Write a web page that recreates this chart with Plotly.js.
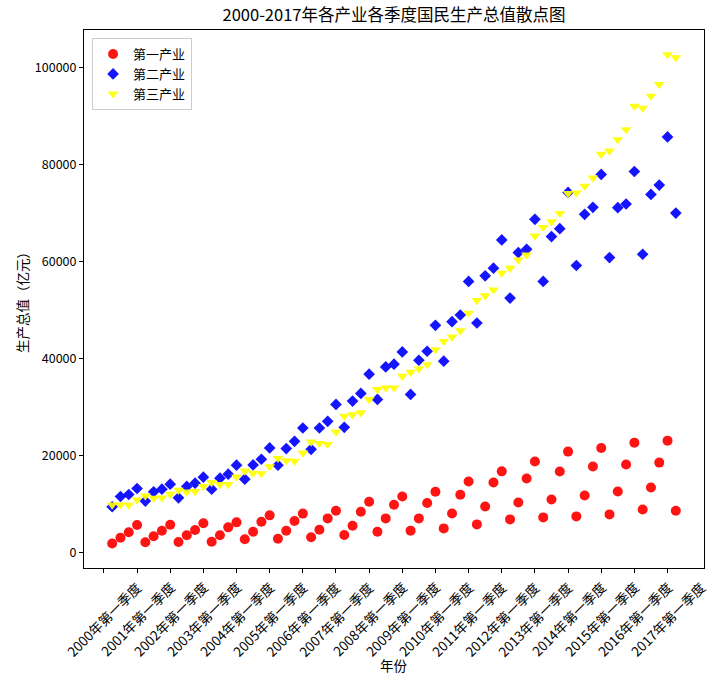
<!DOCTYPE html>
<html>
<head>
<meta charset="utf-8">
<script src="https://cdn.plot.ly/plotly-3.0.1.min.js"></script>
<style>
  body { margin: 0; background: #fff; }
  #chart { width: 722px; height: 677px; }
</style>
</head>
<body>
<div id="chart"></div>
<script>
// tick labels (one per year, every 4th quarter)
const tickLabels = [
  "2000年第一季度", "2001年第一季度", "2002年第一季度", "2003年第一季度",
  "2004年第一季度", "2005年第一季度", "2006年第一季度", "2007年第一季度",
  "2008年第一季度", "2009年第一季度", "2010年第一季度", "2011年第一季度",
  "2012年第一季度", "2013年第一季度", "2014年第一季度", "2015年第一季度",
  "2016年第一季度", "2017年第一季度"
];

// 第一产业 (亿元), 2000Q1 .. 2017Q1
const primary = [
  1950, 3140, 4250, 5750, 2200, 3430, 4580, 5810, 2250, 3630, 4720, 6100,
  2320, 3630, 5270, 6300, 2810, 4370, 6430, 7740, 2940, 4580, 6570, 8100,
  3220, 4790, 7120, 8690, 3700, 5610, 8490, 10540, 4380, 7120, 9920, 11630,
  4590, 7120, 10270, 12590, 5060, 8140, 11980, 14710, 5880, 9580, 14510, 16800,
  6910, 10400, 15330, 18820, 7320, 11020, 16770, 20870, 7530, 11840, 17790, 21620,
  7940, 12660, 18200, 22720, 8960, 13480, 18610, 23130, 8700
];

// 第二产业
const secondary = [
  9510, 11630, 12040, 13270, 10680, 12590, 13140, 14170, 11360, 13690, 14370, 15600,
  13140, 15400, 16220, 18070, 15190, 18130, 19300, 21620, 18070, 21490, 22990, 25730,
  21350, 25730, 27100, 30590, 25870, 31270, 32850, 36820, 31620, 38320, 38870, 41400,
  32640, 39690, 41540, 46880, 39490, 47630, 49000, 55910, 47360, 57070, 58650, 64460,
  52490, 61860, 62550, 68710, 55910, 65150, 66790, 74250, 59200, 69730, 71170, 77950,
  60840, 71100, 71860, 78560, 61520, 73840, 75760, 85680, 70000
];

// 第三产业
const tertiary = [
  9900, 9920, 9850, 10950, 11770, 11290, 11360, 12110, 12930, 12590, 12660, 13690,
  14510, 14100, 14100, 15670, 16900, 16420, 16350, 17790, 19500, 19030, 18890, 20600,
  22860, 22580, 22380, 24910, 28200, 28470, 28880, 31620, 33670, 34010, 34010, 36410,
  37230, 37910, 38800, 41880, 43590, 44480, 45780, 49410, 52010, 52970, 54200, 57620,
  58650, 60360, 61380, 65290, 67070, 68230, 69940, 74050, 74180, 75550, 77260, 82120,
  82800, 85130, 87190, 92040, 91630, 94090, 96490, 102650, 102020
];

const FONT = '"Noto Sans CJK SC", "Noto Sans", sans-serif';

// 序号 1..n, ticks sit at 0, 4, 8, ...
const seq = primary.map((_, i) => i + 1);
const tickPos = tickLabels.map((_, i) => i * 4);

function makeTrace(y, name, color, symbol, size) {
  return {
    x: seq,
    y: y,
    type: "scatter",
    mode: "markers",
    name: name,
    marker: { color: color, symbol: symbol, size: size, opacity: 0.92, line: { width: 0 } },
    hoverinfo: "skip",
  };
}

const traces = [
  makeTrace(primary, "第一产业", "#ff0000", "circle", 10),
  makeTrace(secondary, "第二产业", "#0000ff", "diamond", 9),
  makeTrace(tertiary, "第三产业", "#ffff00", "triangle-down", 9.5),
];

const annotations = tickLabels.map((t, i) => ({
  text: t,
  x: tickPos[i],
  xref: "x",
  y: 0,
  yref: "paper",
  yshift: -7,
  xanchor: "center",
  yanchor: "top",
  textangle: -45,
  showarrow: false,
  font: { family: FONT, size: 13.5, color: "#000" },
}));

annotations.push({
  text: "年份",
  x: 0.5,
  xref: "paper",
  y: 0,
  yref: "paper",
  yshift: -97,
  xanchor: "center",
  yanchor: "middle",
  showarrow: false,
  font: { family: FONT, size: 13.5, color: "#000" },
});

const layout = {
  width: 722,
  height: 677,
  margin: { l: 84, r: 18, t: 30, b: 109 },
  paper_bgcolor: "#fff",
  plot_bgcolor: "#fff",
  font: { family: FONT, color: "#000" },
  title: {
    text: "2000-2017年各产业各季度国民生产总值散点图",
    font: { family: FONT, size: 16.5, color: "#000" },
    x: 0.5,
    xref: "paper",
    xanchor: "center",
    y: 1 - 15 / 677,
    yref: "container",
    yanchor: "middle",
  },
  xaxis: {
    range: [-2.4, 72.4],
    tickvals: tickPos,
    showticklabels: false,
    ticks: "outside",
    ticklen: 4,
    tickcolor: "#000",
    showline: true,
    mirror: true,
    linecolor: "#000",
    linewidth: 1,
    showgrid: false,
    zeroline: false,
  },
  yaxis: {
    range: [-3100, 107700],
    tickvals: [0, 20000, 40000, 60000, 80000, 100000],
    ticktext: ["0", "20000", "40000", "60000", "80000", "100000"],
    ticks: "outside",
    ticklen: 4,
    tickcolor: "#000",
    tickfont: { family: FONT, size: 12.5, color: "#000" },
    showline: true,
    mirror: true,
    linecolor: "#000",
    linewidth: 1,
    showgrid: false,
    zeroline: false,
    title: {
      text: "生产总值（亿元）",
      font: { family: FONT, size: 13.5, color: "#000" },
      standoff: 3,
    },
  },
  legend: {
    x: 0.013,
    y: 0.985,
    xanchor: "left",
    yanchor: "top",
    bgcolor: "rgba(255,255,255,0.8)",
    bordercolor: "#cccccc",
    borderwidth: 1,
    font: { family: FONT, size: 13, color: "#000" },
  },
  annotations: annotations,
  showlegend: true,
};

Plotly.newPlot("chart", traces, layout, { staticPlot: true });
</script>
</body>
</html>
